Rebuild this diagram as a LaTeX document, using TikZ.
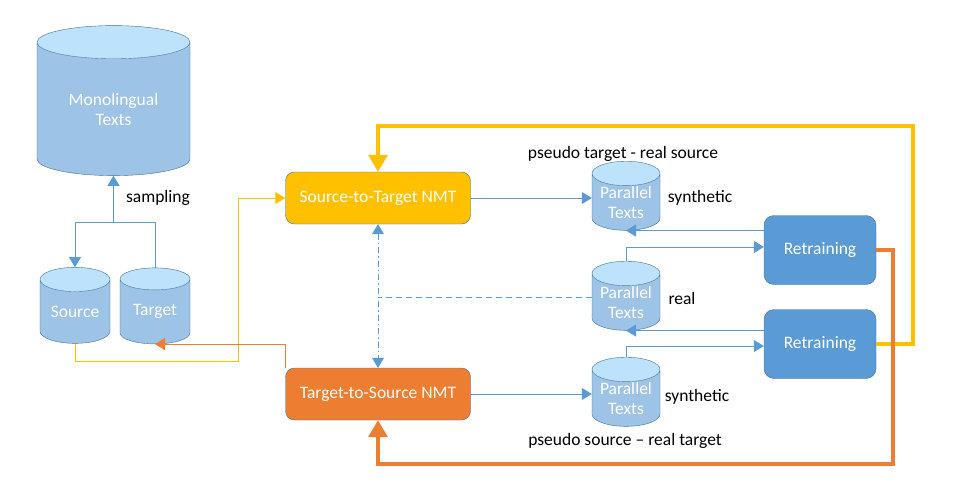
\documentclass[tikz,border=0pt]{standalone}
\usepackage{fontspec}
\setmainfont{Carlito}
\usetikzlibrary{shapes.geometric,arrows.meta}

\definecolor{cylbody}{HTML}{9DC3E6}
\definecolor{cyltop}{HTML}{BDE3FC}
\definecolor{edgeblue}{HTML}{41719C}
\definecolor{lineblue}{HTML}{5B9BD5}
\definecolor{nmtyellow}{HTML}{FFC000}
\definecolor{nmtorange}{HTML}{ED7D31}

\begin{document}
\begin{tikzpicture}[x=1pt, y=-1pt, font=\fontsize{17.5}{20}\selectfont,
  >={Triangle[length=10pt, width=12pt]}]

\tikzstyle{db} = [cylinder, shape border rotate=90, draw=edgeblue, cylinder uses custom fill,
  cylinder body fill=cylbody, cylinder end fill=cyltop, text=white, align=center, inner sep=0pt]
\tikzstyle{nmt} = [draw=edgeblue, rounded corners=9pt, text=white, minimum width=185pt, minimum height=52pt]
\tikzstyle{retrain} = [draw=edgeblue, fill=lineblue, rounded corners=10pt, text=white, minimum width=112pt, minimum height=69pt]
\tikzstyle{thin} = [lineblue, line width=1pt]
\tikzstyle{thick} = [line width=3.5pt, >={Triangle[length=17pt, width=19pt]}]

\useasboundingbox (0,0) rectangle (953,503);

% --- monolingual data
\node[db, minimum width=153pt, minimum height=150pt, aspect=0.37] (mono) at (113.5,109) {Monolingual\\Texts};
\node[db, minimum width=70pt, minimum height=76pt, aspect=0.5] (source) at (75,311.5) {Source};
\node[db, minimum width=70pt, minimum height=76pt, aspect=0.5] (target) at (155,311.5) {Target};
\node at (158,198) {sampling};

% --- NMT models
\node[nmt, fill=nmtyellow] (s2t) at (378,198) {Source-to-Target NMT};
\node[nmt, fill=nmtorange] (t2s) at (378,394) {Target-to-Source NMT};

% --- parallel corpora
\node[db, minimum width=68pt, minimum height=68pt, aspect=0.47] (par1) at (626,202) {Parallel\\Texts};
\node[db, minimum width=68pt, minimum height=66pt, aspect=0.47] (par2) at (626,302) {Parallel\\Texts};
\node[db, minimum width=68pt, minimum height=66pt, aspect=0.47] (par3) at (626,398) {Parallel\\Texts};
\node at (623,154) {pseudo target - real source};
\node at (700,198) {synthetic};
\node at (682,298) {real};
\node at (697,397) {synthetic};
\node at (625,441) {pseudo source -- real target};

% --- retraining
\node[retrain] (ret1) at (820,250) {Retraining};
\node[retrain] (ret2) at (820,344) {Retraining};

% sampling
\coordinate (split) at (113.5,222);
\draw[thin] (target.north) |- (split);
\draw[thin, ->] (split) -- (mono.south);
\draw[thin, ->] (split) -| (source.north);

% monolingual data into the models
\coordinate (srcbend) at (238,361);
\draw[nmtyellow, line width=1pt, ->] (source.south) |- (srcbend) |- (s2t.west);
\draw[nmtorange, line width=1pt, ->] (t2s.north west) |- (target.south);

% real data to both models
\draw[thin, dash pattern=on 6pt off 3pt on 1.5pt off 3pt, <->] (s2t.south) -- (t2s.north);
\draw[thin, dash pattern=on 6pt off 4pt] ([yshift=4pt]par2.west) -- ([yshift=4pt]par2.west -| s2t.south);

% back-translation
\draw[thin, ->] (s2t.east) -- (s2t.east -| par1.west);
\draw[thin, ->] (t2s.east) -- (t2s.east -| par3.west);

% retraining inputs
\draw[thin, ->] (par1.south -| ret1.west) -- (par1.south);
\draw[thin, ->] (par2.north) |- ([yshift=3pt]ret1.west);
\draw[thin, ->] (par2.south -| ret2.west) -- (par2.south);
\draw[thin, ->] (par3.north) |- ([yshift=-2pt]ret2.west);

% retrained models back to the loop
\coordinate (ycorner) at (913,126);
\coordinate (ocorner) at (893,464);
\draw[thick, nmtyellow, ->] (ret2.east) -| (ycorner) -| (s2t.north);
\draw[thick, nmtorange, ->] (ret1.east) -| (ocorner) -| (t2s.south);

\end{tikzpicture}
\end{document}
